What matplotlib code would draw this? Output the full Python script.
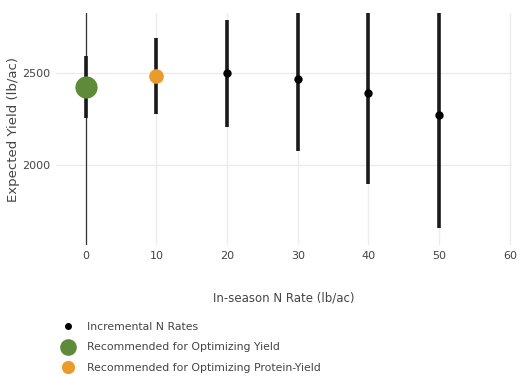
#!/usr/bin/env python3
"""Expected yield by in-season N rate, with recommended rates highlighted."""

import matplotlib
matplotlib.use("Agg")
import matplotlib.pyplot as plt
from matplotlib.lines import Line2D

# ── Data ────────────────────────────────────────────────────────────────────
n_rates    = [0, 10, 20, 30, 40, 50]
yield_mean = [2424, 2484, 2500, 2467, 2391, 2272]
yield_low  = [2255, 2277, 2207, 2076, 1897, 1658]
yield_high = [2592, 2690, 2788, 2858, 2885, 2886]

yield_rec_n = 0
protein_rec_n = 10

legend_labels = [
    "Incremental N Rates",
    "Recommended for Optimizing Yield",
    "Recommended for Optimizing Protein-Yield",
]

GREEN  = "#5e8a3a"
ORANGE = "#e99b2c"
GRID   = "#ececec"
TEXT   = "#444444"

plt.rcParams["font.family"] = ["DejaVu Sans"]

fig = plt.figure(figsize=(5.24, 3.77), dpi=100)
ax = fig.add_axes([0.107, 0.350, 0.870, 0.615])

# error bars + points
for x, m, lo, hi in zip(n_rates, yield_mean, yield_low, yield_high):
    ax.plot([x, x], [lo, hi], color="#1a1a1a", lw=2.6, solid_capstyle="butt", zorder=3)

ax.plot(n_rates, yield_mean, "o", color="black", ms=5, zorder=4)

i_y = n_rates.index(yield_rec_n)
i_p = n_rates.index(protein_rec_n)
ax.plot(yield_rec_n, yield_mean[i_y], "o", color=GREEN, ms=16, mec="none", zorder=5)
ax.plot(protein_rec_n, yield_mean[i_p], "o", color=ORANGE, ms=10.5, mec="none", zorder=5)

# zero line (thin, dark) like plotly
ax.axvline(0, color="#333333", lw=0.9, zorder=2)

ax.set_xlim(-4.2, 60.3)
ax.set_ylim(1565, 2826)
ax.set_xticks([0, 10, 20, 30, 40, 50, 60])
ax.set_yticks([2000, 2500])
ax.grid(True, color=GRID, lw=1.0, zorder=0)
ax.set_axisbelow(True)
for s in ax.spines.values():
    s.set_visible(False)
ax.tick_params(length=0, labelsize=8, labelcolor=TEXT)
ax.tick_params(axis="x", pad=4)
ax.tick_params(axis="y", pad=4)

ax.set_xlabel("In-season N Rate (lb/ac)", fontsize=8.5, color=TEXT, labelpad=22)
ax.set_ylabel("Expected Yield (lb/ac)", fontsize=9.5, color=TEXT, labelpad=2)

handles = [
    Line2D([], [], ls="none", marker="o", color="black", ms=4),
    Line2D([], [], ls="none", marker="o", color=GREEN, ms=12, mec="none"),
    Line2D([], [], ls="none", marker="o", color=ORANGE, ms=9.5, mec="none"),
]
fig.legend(handles, legend_labels, loc="upper left", bbox_to_anchor=(0.115, 0.146),
           frameon=False, fontsize=7.8, labelcolor=TEXT, handletextpad=1.0,
           labelspacing=0.97, borderpad=0, borderaxespad=0, handlelength=1.5)

fig.savefig("out.png", dpi=100)
